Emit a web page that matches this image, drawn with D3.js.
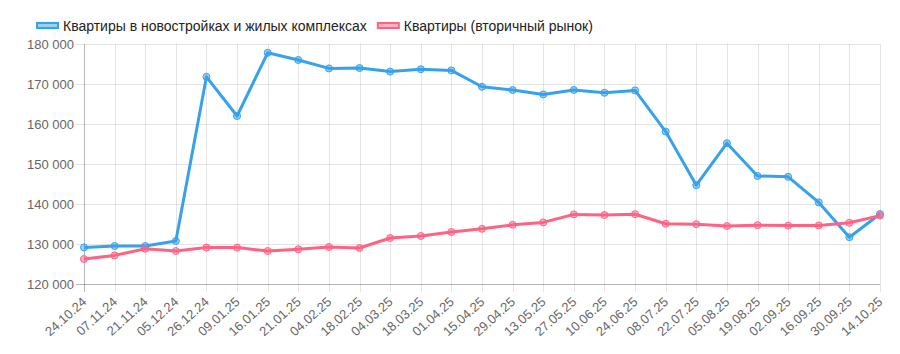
<!DOCTYPE html>
<html>
<head>
<meta charset="utf-8">
<script src="https://cdn.jsdelivr.net/npm/d3@7"></script>
<style>
  body { margin: 0; background: #fff; }
  svg text { font-family: "Liberation Sans", Arial, sans-serif; fill: #666; }
</style>
</head>
<body>
<svg id="chart"></svg>
<script>
// DATA //////////////////////////////////////////////////////////////////

var dates = ["24.10.24", "07.11.24", "21.11.24", "05.12.24", "26.12.24", "09.01.25", "16.01.25",
    "21.01.25", "04.02.25", "18.02.25", "04.03.25", "18.03.25", "01.04.25", "15.04.25", "29.04.25",
    "13.05.25", "27.05.25", "10.06.25", "24.06.25", "08.07.25", "22.07.25", "05.08.25", "19.08.25",
    "02.09.25", "16.09.25", "30.09.25", "14.10.25"];

var newBuildings = [129150, 129500, 129500, 130750, 171800, 162000, 177800,
    176000, 173900, 174000, 173100, 173700, 173400, 169300, 168500,
    167400, 168500, 167800, 168400, 158100, 144700, 155200, 147000,
    146800, 140400, 131700, 137500];

var secondary = [126250, 127150, 128800, 128250, 129100, 129100, 128250,
    128700, 129250, 129000, 131500, 132000, 133000, 133800, 134800,
    135400, 137400, 137250, 137450, 135050, 134950, 134500, 134700,
    134600, 134650, 135300, 137100];

var yTicks = [120000, 130000, 140000, 150000, 160000, 170000, 180000];

var seriesNames = ["Квартиры в новостройках и жилых комплексах", "Квартиры (вторичный рынок)"];

// SETUP /////////////////////////////////////////////////////////////////

var WIDTH = 900, HEIGHT = 354;
var LEFT = 84, RIGHT = 880, TOP = 44, BOTTOM = 284;

var COLOURS = ["rgb(54, 162, 235)", "rgb(255, 99, 132)"];
var FILLS = ["rgba(54, 162, 235, 0.5)", "rgba(255, 99, 132, 0.5)"];

var svg = d3.select("#chart")
    .attr("width", WIDTH)
    .attr("height", HEIGHT);

var x = d3.scalePoint().domain(dates).range([LEFT, RIGHT]);
var y = d3.scaleLinear().domain([120000, 180000]).range([BOTTOM, TOP]);

var fmt = function (v) { return d3.format(",")(v).replace(/,/g, " "); };

// GRID //////////////////////////////////////////////////////////////////

var grid = svg.append("g");

grid.selectAll(".hgrid")
    .data(yTicks)
    .enter().append("line")
    .attr("x1", LEFT - 8)
    .attr("x2", RIGHT)
    .attr("y1", function (d) { return Math.round(y(d)) + 0.5; })
    .attr("y2", function (d) { return Math.round(y(d)) + 0.5; })
    .attr("stroke", "rgba(0,0,0,0.1)");

grid.selectAll(".vgrid")
    .data(dates)
    .enter().append("line")
    .attr("x1", function (d) { return Math.round(x(d)) + 0.5; })
    .attr("x2", function (d) { return Math.round(x(d)) + 0.5; })
    .attr("y1", TOP)
    .attr("y2", BOTTOM + 8)
    .attr("stroke", "rgba(0,0,0,0.1)");

// axis lines a bit darker
grid.append("line")
    .attr("x1", LEFT + 0.5).attr("x2", LEFT + 0.5)
    .attr("y1", TOP).attr("y2", BOTTOM + 8)
    .attr("stroke", "rgba(0,0,0,0.2)");
grid.append("line")
    .attr("x1", LEFT - 8).attr("x2", RIGHT)
    .attr("y1", BOTTOM + 0.5).attr("y2", BOTTOM + 0.5)
    .attr("stroke", "rgba(0,0,0,0.2)");

// AXES //////////////////////////////////////////////////////////////////

var yAxis = svg.append("g")
    .attr("transform", "translate(" + (LEFT - 10) + ",0)")
    .call(d3.axisLeft(y).tickValues(yTicks).tickFormat(fmt).tickSize(0).tickPadding(0));
yAxis.select(".domain").remove();
yAxis.selectAll("text")
    .style("font-size", "13px")
    .attr("fill", null);

var xAxis = svg.append("g")
    .attr("transform", "translate(0," + BOTTOM + ")")
    .call(d3.axisBottom(x).tickSize(0));
xAxis.select(".domain").remove();
xAxis.selectAll("text")
    .style("font-size", "13px")
    .attr("fill", null)
    .attr("y", 0)
    .attr("dy", 0)
    .attr("text-anchor", "end")
    .attr("transform", "translate(3,19) rotate(-42)");

// LINES /////////////////////////////////////////////////////////////////

var line = d3.line()
    .x(function (d, i) { return x(dates[i]); })
    .y(function (d) { return y(d); });

[newBuildings, secondary].forEach(function (series, k) {
    var g = svg.append("g");
    g.append("path")
        .datum(series)
        .attr("d", line)
        .attr("fill", "none")
        .attr("stroke", COLOURS[k])
        .attr("stroke-width", 3)
        .attr("stroke-linejoin", "round");
    g.selectAll("circle")
        .data(series)
        .enter().append("circle")
        .attr("cx", function (d, i) { return x(dates[i]); })
        .attr("cy", function (d) { return y(d); })
        .attr("r", 3.5)
        .attr("fill", FILLS[k])
        .attr("stroke", COLOURS[k])
        .attr("stroke-width", 1);
});

// LEGEND ////////////////////////////////////////////////////////////////

var legend = svg.append("g");
var lx = 36;
seriesNames.forEach(function (name, k) {
    legend.append("rect")
        .attr("x", lx + 1)
        .attr("y", 23)
        .attr("width", 21)
        .attr("height", 5)
        .attr("fill", FILLS[k])
        .attr("stroke", COLOURS[k])
        .attr("stroke-width", 2);
    var t = legend.append("text")
        .attr("x", lx + 27)
        .attr("y", 31)
        .style("font-size", "14px")
        .style("fill", "#222")
        .text(name);
    lx += 27 + t.node().getComputedTextLength() + 10;
});
</script>
</body>
</html>
